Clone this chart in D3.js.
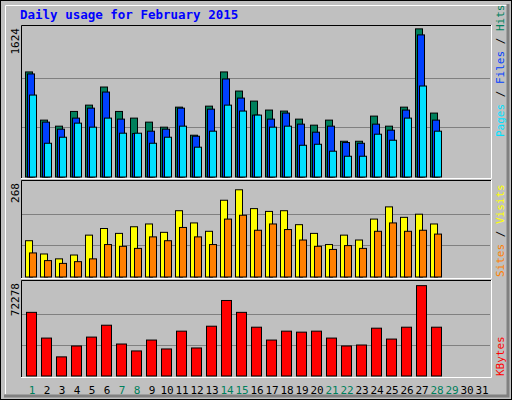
<!DOCTYPE html>
<html><head><meta charset="utf-8">
<script src="https://cdn.jsdelivr.net/npm/d3@7"></script>
<style>body{margin:0;background:#fff}svg{display:block}</style>
</head><body><svg id="c" width="512" height="400"></svg>
<script>
const days = d3.range(1, 32);
const weekendDays = [1,7,8,14,15,21,22,28,29];
const hits = [1149,622,556,717,786,984,717,644,600,545,764,457,775,1149,940,830,732,721,633,567,622,391,391,666,556,764,1620,699];
const files = [1127,600,523,644,753,929,633,475,501,523,753,446,742,1072,863,677,633,699,578,490,556,377,369,578,512,732,1554,622];
const pages = [896,369,435,589,545,644,479,479,369,435,556,326,501,786,721,677,545,556,347,358,282,227,227,468,402,644,995,501];
const visits = [104,66,52,63,120,139,125,144,152,128,190,155,131,220,250,196,188,190,150,125,93,120,106,166,201,171,180,152];
const sites = [69,47,39,44,52,93,88,82,115,104,142,115,93,166,177,134,152,136,106,88,79,90,82,131,155,131,134,123];
const kbytes = [49731,29632,14945,23448,30405,39681,24994,19583,28086,21129,35043,21902,38908,59007,49731,38135,28086,35043,34270,35043,29632,23448,24221,37362,28859,38135,70603,38135];
const maxLabels = ["1624","268","72278"];

const svg = d3.select("#c");
const font = "'DejaVu Sans Mono', monospace";
// outer frame
svg.append("rect").attr("x",0).attr("y",0).attr("width",512).attr("height",400).attr("fill","#c0c0c0");
svg.append("rect").attr("x",0.5).attr("y",0.5).attr("width",511).attr("height",399).attr("fill","none").attr("stroke","#000");
svg.append("path").attr("d","M5.5,394 V5.5 H507").attr("stroke","#fff").attr("fill","none");
svg.append("path").attr("d","M508,4 V396 H4").attr("stroke","#808080").attr("stroke-width",3).attr("fill","none");

svg.append("text").attr("x",20).attr("y",19).text("Daily usage for February 2015")
  .attr("font-family",font).attr("font-weight","bold").attr("font-size",12.5).attr("fill","#0000ff");

const x = d3.scaleBand().domain(days).range([25, 25+15*31]).paddingInner(0);

function panel(y0, y1, max, label){
  svg.append("rect").attr("x",21).attr("y",y0).attr("width",470).attr("height",y1-y0).attr("fill","#c0c0c0");
  const y = d3.scaleLinear().domain([0,max]).range([y1-1.5, y0+3]);
  [1/3,2/3].forEach(f=>{
    svg.append("line").attr("x1",22).attr("x2",490).attr("y1",Math.round(y(max*f))+0.5).attr("y2",Math.round(y(max*f))+0.5)
      .attr("stroke","#808080");
  });
  svg.append("path").attr("d",`M21.5,${y1} V${y0+0.5} H491`).attr("stroke","#000").attr("fill","none");
  svg.append("path").attr("d",`M21,${y1+0.5} H491.5 V${y0}`).attr("stroke","#fff").attr("fill","none");
  svg.append("text").attr("transform",`translate(19,${y0+3}) rotate(-90)`).attr("text-anchor","end")
    .attr("font-family",font).attr("font-size",11).attr("fill","#000").text(label);
  return y;
}
function bars(y, data, off, w, color){
  svg.append("g").selectAll("rect").data(data).join("rect")
    .attr("x",(d,i)=>x(i+1)+off+0.5).attr("width",w)
    .attr("y",d=>y(d)+0.5).attr("height",d=>y(0)-y(d))
    .attr("fill",color).attr("stroke","#000").attr("stroke-width",1);
}
const y1 = panel(25,178,1624,maxLabels[0]);
bars(y1,hits,0,7,"#00805c");
bars(y1,files,2,7,"#0040ff");
bars(y1,pages,4,7,"#00e0ff");
const y2 = panel(180,278,268,maxLabels[1]);
bars(y2,visits,0,7,"#ffff00");
bars(y2,sites,4,7,"#ff8000");
const y3 = panel(280,377,72278,maxLabels[2]);
bars(y3,kbytes,1,10,"#ff0000");

svg.append("g").selectAll("text").data(days).join("text")
  .attr("x",d=>x(d)+7).attr("y",394).attr("text-anchor","middle")
  .attr("font-family",font).attr("font-size",11)
  .attr("fill",d=>weekendDays.includes(d)?"#00805c":"#000").text(d=>d);

function rlabel(yb, parts){
  const t = svg.append("text").attr("transform",`translate(504,${yb}) rotate(-90)`)
    .attr("font-family",font).attr("font-size",11);
  parts.forEach(p=>t.append("tspan").attr("fill",p[1]).text(p[0]));
}
rlabel(137,[["Pages","#00e0ff"],[" / ","#000"],["Files","#0040ff"],[" / ","#000"],["Hits","#00805c"]]);
rlabel(277,[["Sites","#ff8000"],[" / ","#000"],["Visits","#ffff00"]]);
rlabel(376,[["KBytes","#ff0000"]]);
</script></body></html>
